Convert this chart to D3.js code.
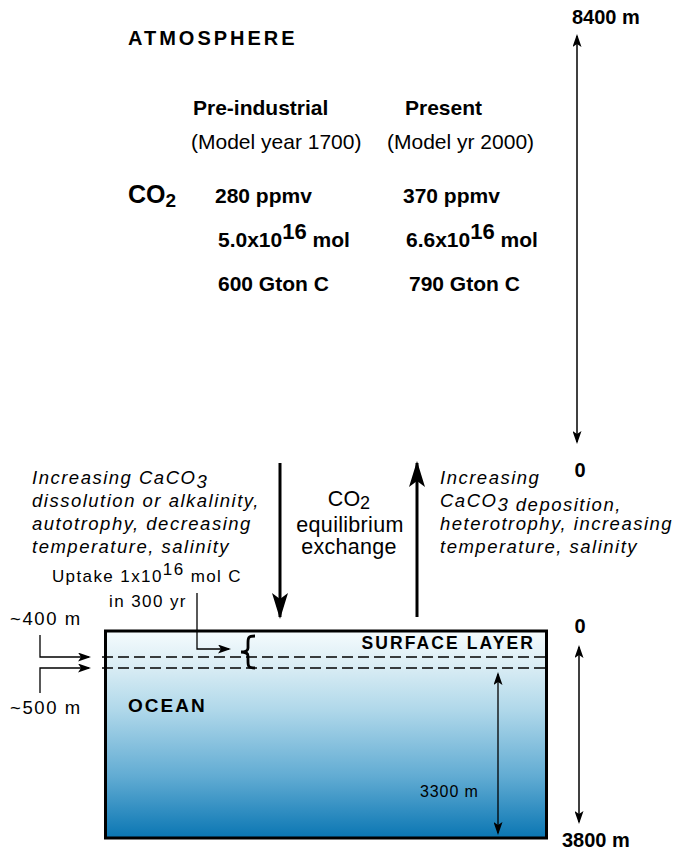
<!DOCTYPE html>
<html>
<head>
<meta charset="utf-8">
<script src="https://cdn.jsdelivr.net/npm/d3@7"></script>
<style>
  html, body { margin: 0; padding: 0; background: #fff; }
  svg text { font-family: "Liberation Sans", Arial, Helvetica, sans-serif; fill: #000; }
</style>
</head>
<body>
<div id="chart"></div>
<script>
// --- data ---
const scenarios = ["Pre-industrial", "Present"];
const modelYears = ["(Model year 1700)", "(Model yr 2000)"];
const co2Ppmv = [280, 370];
const co2Mol = ["5.0", "6.6"];          // x 10^16 mol
const co2GtonC = [600, 790];
const atmosphereDepth = [0, 8400];       // m
const oceanDepth = [0, 3800];            // m
const mixedLayerDepth = [400, 500];      // m
const deepOceanThickness = 3300;         // m
const leftProcesses = ["Increasing CaCO|3", "dissolution or alkalinity,", "autotrophy, decreasing", "temperature, salinity"];
const rightProcesses = ["Increasing", "CaCO|3 deposition,", "heterotrophy, increasing", "temperature, salinity"];

const width = 679, height = 850;

const svg = d3.select("#chart").append("svg")
    .attr("width", width)
    .attr("height", height);

const defs = svg.append("defs");

// arrow heads
function marker(id, len, half, notch) {
    defs.append("marker")
        .attr("id", id)
        .attr("viewBox", `0 0 ${len} ${half * 2}`)
        .attr("refX", len - 2)
        .attr("refY", half)
        .attr("markerWidth", len)
        .attr("markerHeight", half * 2)
        .attr("markerUnits", "userSpaceOnUse")
        .attr("orient", "auto-start-reverse")
        .append("path")
        .attr("d", `M0,0 L${len},${half} L0,${half * 2} L${notch},${half} Z`)
        .attr("fill", "#000");
}
marker("thin", 13, 4.5, 3);
marker("bold", 26, 8, 6);

// ocean gradient
const grad = defs.append("linearGradient")
    .attr("id", "ocean")
    .attr("x1", 0).attr("y1", 0).attr("x2", 0).attr("y2", 1);
[
    [0, "#f5fbfd"], [0.18, "#d8ecf4"], [0.38, "#b0d8ea"],
    [0.7, "#62acd3"], [1, "#0a76b3"]
].forEach(([o, c]) => grad.append("stop").attr("offset", o).attr("stop-color", c));

// scales
const yAtm = d3.scaleLinear().domain(atmosphereDepth).range([442, 36]);
const yOcean = d3.scaleLinear()
    .domain([0, mixedLayerDepth[0], mixedLayerDepth[1], oceanDepth[1]])
    .range([631, 657, 668, 838]);
const colX = d3.scaleOrdinal().domain(scenarios).range([216, 404]);

// text helper: parts split by "|" are shifted (sub/superscript)
function label(x, y, str, opts = {}) {
    const t = svg.append("text")
        .attr("x", x).attr("y", y)
        .attr("font-size", opts.size || 18)
        .attr("font-weight", opts.weight || "normal")
        .attr("font-style", opts.style || "normal")
        .attr("letter-spacing", opts.spacing || 0)
        .attr("text-anchor", opts.anchor || "start");
    const parts = str.split("|");
    parts.forEach((p, i) => {
        const shift = opts.shift || 5;
        const s = t.append("tspan").text(p);
        if (i === 1) s.attr("dy", shift).attr("font-size", opts.subSize || opts.size || 18);
        if (i === 2) s.attr("dy", -shift).attr("font-size", opts.size || 18);
    });
    return t;
}

// ---------- ATMOSPHERE ----------
label(128, 45, "ATMOSPHERE", { size: 20, weight: "bold", spacing: 3 });

label(193, 115, scenarios[0], { size: 21, weight: "bold" });
label(405, 115, scenarios[1], { size: 21, weight: "bold" });
label(191, 149, modelYears[0], { size: 21 });
label(387, 149, modelYears[1], { size: 21 });

label(128, 203, "CO|2", { size: 25, weight: "bold", subSize: 19, shift: 4 });

scenarios.forEach((s, i) => {
    label(colX(s) - 1, 203, `${co2Ppmv[i]} ppmv`, { size: 21, weight: "bold" });
    label(colX(s) + 2, 247, `${co2Mol[i]}x10|16| mol`, { size: 21, weight: "bold", subSize: 22, shift: -8 });
    label(colX(s) + 2 + i * 3, 291, `${co2GtonC[i]} Gton C`, { size: 21, weight: "bold" });
});

// atmosphere height arrow
svg.append("line")
    .attr("x1", 577).attr("x2", 577)
    .attr("y1", yAtm(atmosphereDepth[1])).attr("y2", yAtm(atmosphereDepth[0]))
    .attr("stroke", "#000").attr("stroke-width", 1.5)
    .attr("marker-start", "url(#thin)").attr("marker-end", "url(#thin)");
label(572, yAtm(atmosphereDepth[1]) - 12, `${atmosphereDepth[1]} m`, { size: 20, weight: "bold" });
label(580, yAtm(atmosphereDepth[0]) + 35, `${atmosphereDepth[0]}`, { size: 20, weight: "bold", anchor: "middle" });

// ---------- exchange ----------
svg.append("line")
    .attr("x1", 280).attr("x2", 280).attr("y1", 463).attr("y2", 617)
    .attr("stroke", "#000").attr("stroke-width", 3)
    .attr("marker-end", "url(#bold)");
svg.append("line")
    .attr("x1", 417).attr("x2", 417).attr("y1", 617).attr("y2", 463)
    .attr("stroke", "#000").attr("stroke-width", 3)
    .attr("marker-end", "url(#bold)");

label(349, 506, "CO|2", { size: 21.5, anchor: "middle", subSize: 18, shift: 3 });
label(350, 532, "equilibrium", { size: 21.5, anchor: "middle", spacing: 0.3 });
label(349, 554, "exchange", { size: 21.5, anchor: "middle", spacing: 0.3 });

leftProcesses.forEach((d, i) => {
    label(32, 484 + i * 23, d, { size: 18.5, style: "italic", spacing: 1.5, subSize: 18.5, shift: 4 });
});
rightProcesses.forEach((d, i) => {
    label(440, 484 + i * 23, d, { size: 18.5, style: "italic", spacing: 1.5, subSize: 18.5, shift: 4 });
});

// ---------- OCEAN ----------
svg.append("rect")
    .attr("x", 105.5).attr("y", yOcean(0))
    .attr("width", 441).attr("height", yOcean(oceanDepth[1]) - yOcean(0))
    .attr("fill", "url(#ocean)")
    .attr("stroke", "#000").attr("stroke-width", 3);

svg.selectAll(".mixed")
    .data(mixedLayerDepth)
    .join("line")
    .attr("class", "mixed")
    .attr("x1", 102).attr("x2", 546)
    .attr("y1", d => yOcean(d)).attr("y2", d => yOcean(d))
    .attr("stroke", "#000").attr("stroke-width", 1.4)
    .attr("stroke-dasharray", "11,5");

label(535, 649, "SURFACE LAYER", { size: 17.5, weight: "bold", spacing: 2.1, anchor: "end" });
label(128, 712, "OCEAN", { size: 19, weight: "bold", spacing: 2 });

// brace over the mixed layer
const b0 = yOcean(0) + 5, b1 = yOcean(mixedLayerDepth[1]), bm = (b0 + b1) / 2;
svg.append("path")
    .attr("d", `M255,${b0} C248,${b0} 248,${b0 + 2} 248,${b0 + 7} L248,${bm - 4} C248,${bm - 1} 246,${bm} 241,${bm}
                C246,${bm} 248,${bm + 1} 248,${bm + 4} L248,${b1 - 7} C248,${b1 - 2} 248,${b1} 255,${b1}`)
    .attr("fill", "none").attr("stroke", "#000").attr("stroke-width", 2.8);

// uptake
label(147, 582, "Uptake 1x10|16| mol C", { size: 17, anchor: "middle", spacing: 1.4, subSize: 17, shift: -7 });
label(148, 607, "in 300 yr", { size: 17, anchor: "middle", spacing: 1.4 });
svg.append("path")
    .attr("d", `M197,593 V649 H229`)
    .attr("fill", "none").attr("stroke", "#000").attr("stroke-width", 1.3)
    .attr("marker-end", "url(#thin)");

// mixed layer depth labels
label(10, 625, `~${mixedLayerDepth[0]} m`, { size: 18.5, spacing: 1.6 });
label(10, 714, `~${mixedLayerDepth[1]} m`, { size: 18.5, spacing: 1.6 });
svg.append("path")
    .attr("d", `M40,635 V${yOcean(mixedLayerDepth[0])} H89`)
    .attr("fill", "none").attr("stroke", "#000").attr("stroke-width", 1.3)
    .attr("marker-end", "url(#thin)");
svg.append("path")
    .attr("d", `M40,693 V${yOcean(mixedLayerDepth[1])} H89`)
    .attr("fill", "none").attr("stroke", "#000").attr("stroke-width", 1.3)
    .attr("marker-end", "url(#thin)");

// deep ocean thickness
svg.append("line")
    .attr("x1", 498).attr("x2", 498)
    .attr("y1", yOcean(mixedLayerDepth[1]) + 6).attr("y2", yOcean(oceanDepth[1]) - 5)
    .attr("stroke", "#000").attr("stroke-width", 1.3)
    .attr("marker-start", "url(#thin)").attr("marker-end", "url(#thin)");
label(420, 797, `${deepOceanThickness} m`, { size: 16, spacing: 0.9 });

// ocean depth arrow
svg.append("line")
    .attr("x1", 579).attr("x2", 579)
    .attr("y1", yOcean(oceanDepth[0]) + 16).attr("y2", yOcean(oceanDepth[1]) - 16)
    .attr("stroke", "#000").attr("stroke-width", 1.5)
    .attr("marker-start", "url(#thin)").attr("marker-end", "url(#thin)");
label(580, yOcean(oceanDepth[0]) + 2, `${oceanDepth[0]}`, { size: 20, weight: "bold", anchor: "middle" });
label(562, yOcean(oceanDepth[1]) + 9, `${oceanDepth[1]} m`, { size: 20, weight: "bold" });
</script>
</body>
</html>
